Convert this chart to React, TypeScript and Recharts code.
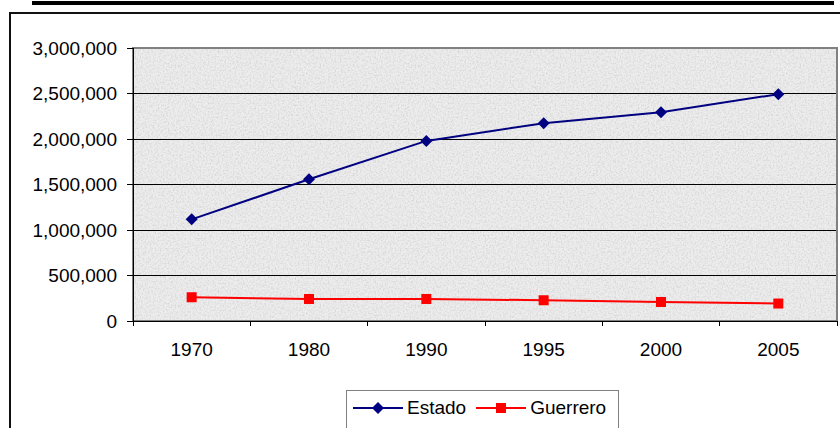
import { LineChart, Line, XAxis, YAxis, CartesianGrid, Legend, ReferenceArea } from 'recharts'

const years = ['1970', '1980', '1990', '1995', '2000', '2005']
const estado = [1117000, 1557000, 1979000, 2174000, 2295000, 2493000]
const guerrero = [261000, 242000, 242000, 228000, 209000, 192000]
const yTicks = [0, 500000, 1000000, 1500000, 2000000, 2500000, 3000000]

// x positions sit in the middle of each category slot, tick marks sit on the slot edges
const data = years.map((year, i) => ({
    pos: i + 0.5,
    year,
    estado: estado[i],
    guerrero: guerrero[i],
}))
const xTicks = [0, 0.5, 1, 1.5, 2, 2.5, 3, 3.5, 4, 4.5, 5, 5.5, 6]

const font = '"Liberation Sans", Arial, sans-serif'

function Diamond({ cx, cy }: any) {
    if (cx == null || cy == null) return null
    return <polygon points={`${cx},${cy - 6} ${cx + 6},${cy} ${cx},${cy + 6} ${cx - 6},${cy}`} fill="#000080" />
}

function Square({ cx, cy }: any) {
    if (cx == null || cy == null) return null
    return <rect x={cx - 5} y={cy - 5} width={10} height={10} fill="#ff0000" />
}

function YearTick({ x, y, payload }: any) {
    const v = payload.value
    if (Number.isInteger(v)) {
        return <line x1={x} y1={y} x2={x} y2={y + 5} stroke="#000" strokeWidth={1} shapeRendering="crispEdges" />
    }
    return (
        <text x={x} y={y + 35} textAnchor="middle" fontSize={19} fill="#000" fontFamily={font}>
            {years[Math.floor(v)]}
        </text>
    )
}

function LegendBox({ payload }: any) {
    return (
        <div style={{
            border: '1px solid #808080',
            background: '#fff',
            width: 273,
            height: 44,
            boxSizing: 'border-box',
            display: 'flex',
            alignItems: 'flex-start',
            paddingTop: 6,
            paddingLeft: 6,
            fontFamily: font,
            fontSize: 19,
        }}>
            {(payload || []).map((p: any) => (
                <div key={p.value} style={{ display: 'flex', alignItems: 'center', marginRight: 10 }}>
                    <svg width={50} height={14}>
                        <line x1={0} y1={7} x2={50} y2={7} stroke={p.color} strokeWidth={2} />
                        {p.dataKey === 'estado'
                            ? <polygon points="25,1 31,7 25,13 19,7" fill={p.color} />
                            : <rect x={20} y={2} width={10} height={10} fill={p.color} />}
                    </svg>
                    <span style={{ marginLeft: 4 }}>{p.value}</span>
                </div>
            ))}
        </div>
    )
}

export default function App() {
    return (
        <div style={{ position: 'fixed', left: 0, top: 0, width: 840, height: 428, background: '#fff', overflow: 'hidden' }}>
            <div style={{ position: 'absolute', left: 32, top: 1, width: 802, height: 4, background: '#000' }} />
            <div style={{ position: 'absolute', left: 9, top: 12, width: 900, height: 500, borderLeft: '2px solid #111', borderTop: '2px solid #111' }} />
            <div style={{ position: 'absolute', left: 0, top: 0 }}>
                <LineChart width={840} height={428} data={data} margin={{ top: 48, right: 3, left: 0, bottom: 67 }}>
                    <defs>
                        <filter id="grain" x="0" y="0" width="100%" height="100%">
                            <feTurbulence type="fractalNoise" baseFrequency="0.6" numOctaves={2} seed={4} />
                            <feColorMatrix type="matrix" values="0 0 0 0 0.5  0 0 0 0 0.5  0 0 0 0 0.5  1.1 0 0 0 -0.45" />
                        </filter>
                        <pattern id="paper" x="0" y="0" width="240" height="240" patternUnits="userSpaceOnUse">
                            <rect width="240" height="240" fill="#ededed" />
                            <rect width="240" height="240" filter="url(#grain)" />
                        </pattern>
                    </defs>
                    <CartesianGrid vertical={false} stroke="#000" strokeOpacity={1} fill="url(#paper)" shapeRendering="crispEdges" />
                    <ReferenceArea x1={0} x2={6} y1={0} y2={3000000} fill="none" stroke="#808080" strokeWidth={2} ifOverflow="visible" />
                    <XAxis
                        dataKey="pos"
                        type="number"
                        domain={[0, 6]}
                        ticks={xTicks}
                        interval={0}
                        height={40}
                        tickLine={false}
                        tickSize={0}
                        tickMargin={0}
                        tick={<YearTick />}
                        axisLine={{ stroke: '#000', shapeRendering: 'crispEdges' }}
                    />
                    <YAxis
                        width={133}
                        domain={[0, 3000000]}
                        ticks={yTicks}
                        interval={0}
                        tickSize={6}
                        tickMargin={10}
                        tickFormatter={(v) => v.toLocaleString('en-US')}
                        tick={{ fontSize: 19, fill: '#000', fontFamily: font }}
                        axisLine={{ stroke: '#000', shapeRendering: 'crispEdges' }}
                        tickLine={{ stroke: '#000', shapeRendering: 'crispEdges' }}
                    />
                    <Legend
                        layout="horizontal"
                        verticalAlign="middle"
                        align="center"
                        content={<LegendBox />}
                        wrapperStyle={{ position: 'absolute', left: 346, top: 390, width: 273 }}
                    />
                    <Line
                        dataKey="estado"
                        name="Estado"
                        stroke="#000080"
                        strokeWidth={2}
                        dot={<Diamond />}
                        activeDot={false}
                        isAnimationActive={false}
                    />
                    <Line
                        dataKey="guerrero"
                        name="Guerrero"
                        stroke="#ff0000"
                        strokeWidth={2}
                        dot={<Square />}
                        activeDot={false}
                        isAnimationActive={false}
                    />
                </LineChart>
            </div>
        </div>
    )
}
